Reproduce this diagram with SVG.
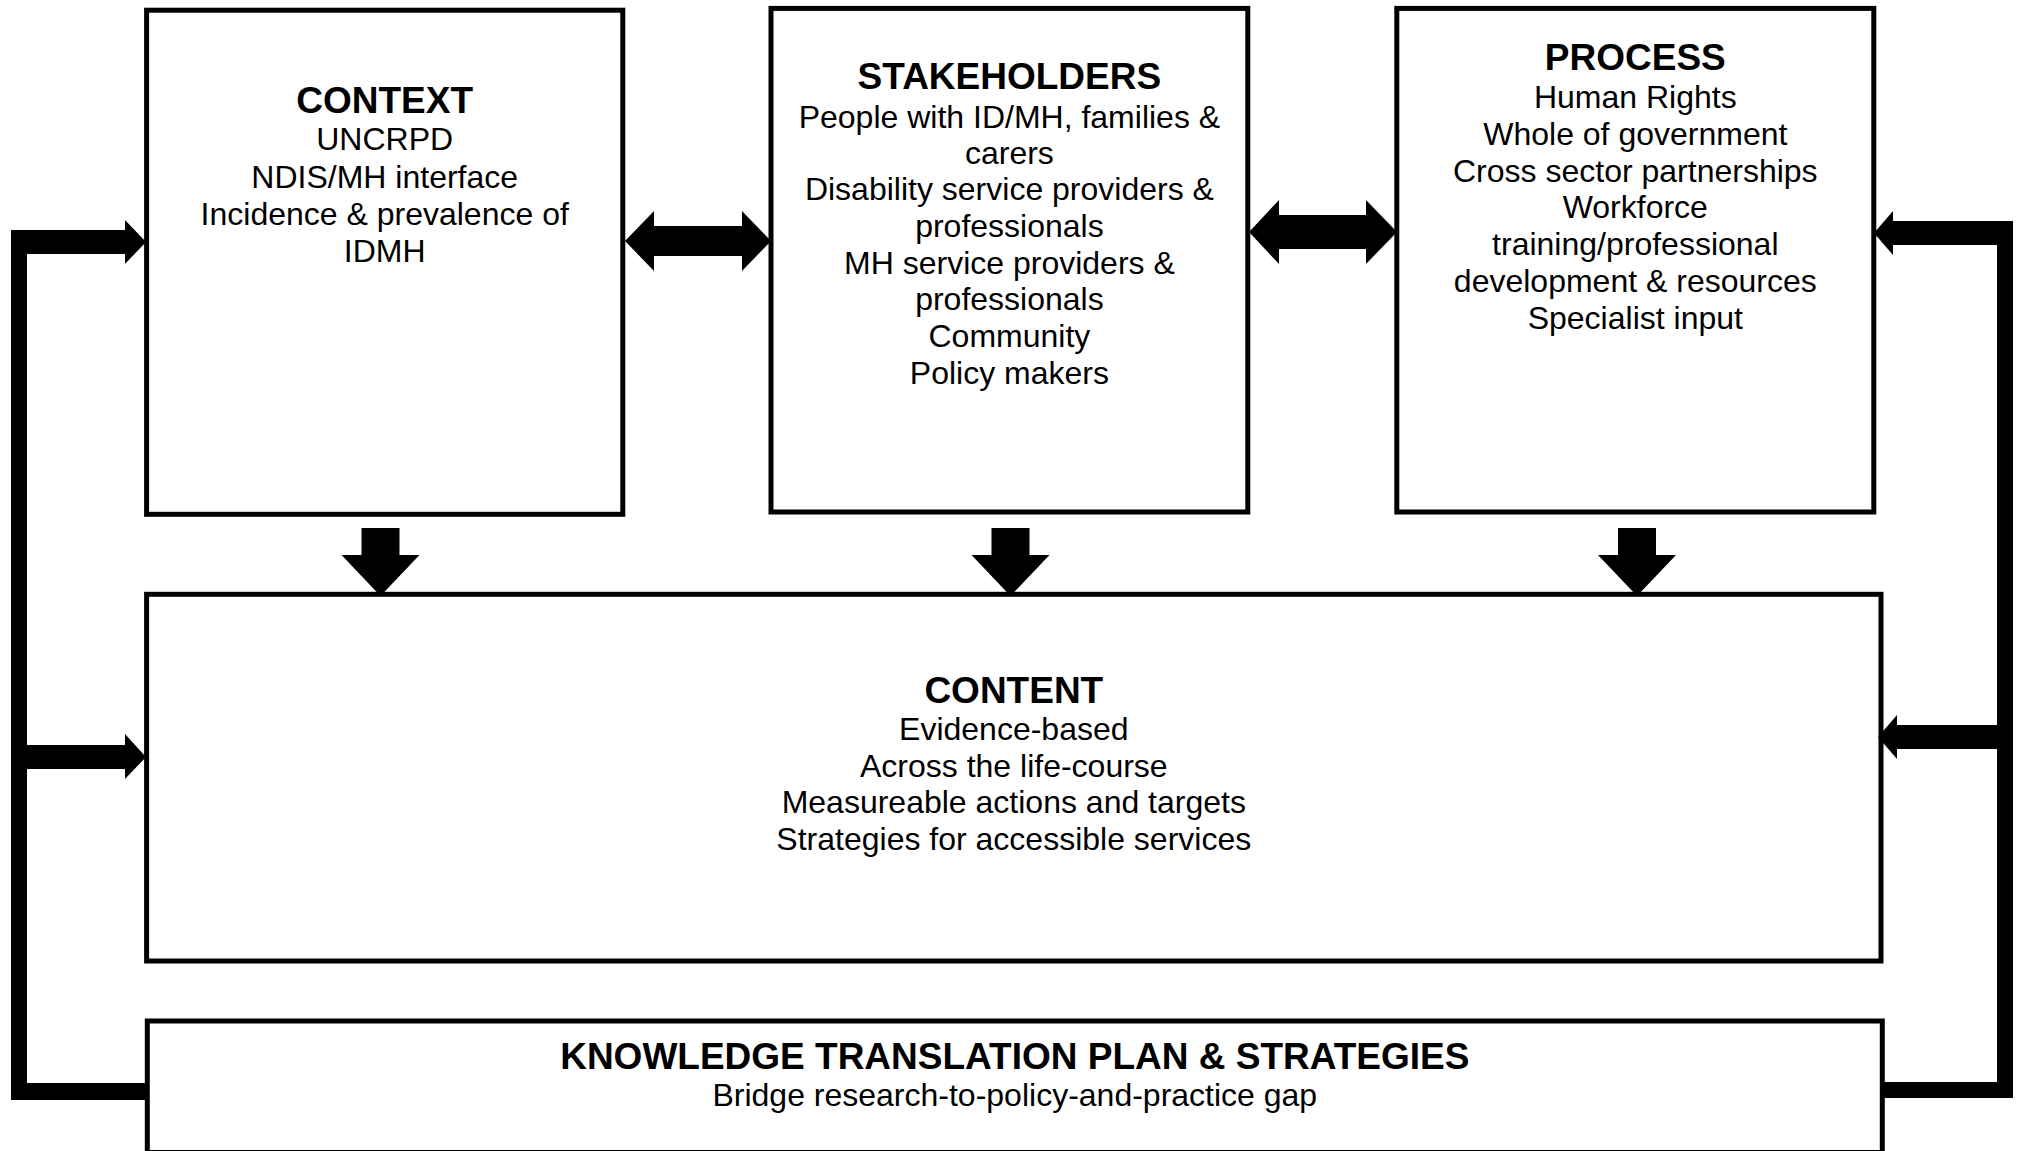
<svg xmlns="http://www.w3.org/2000/svg" width="2018" height="1151" viewBox="0 0 2018 1151">
<style>
  .box { fill: #ffffff; stroke: #000000; stroke-width: 5; }
  .arr { fill: #000000; stroke: none; }
  text { font-family: "Liberation Sans", Arial, sans-serif; fill: #000000; text-anchor: middle; }
  .t { font-size: 37px; font-weight: bold; }
  .b { font-size: 32px; }
</style>
<rect x="0" y="0" width="2018" height="1151" fill="#ffffff"/>

<g id="context">
  <rect class="box" x="146.6" y="10.2" width="476.2" height="504.1"/>
  <text class="t" x="384.7" y="112.5">CONTEXT</text>
  <text class="b" x="384.7" y="150">UNCRPD</text>
  <text class="b" x="384.7" y="187.5">NDIS/MH interface</text>
  <text class="b" x="384.7" y="224.5">Incidence &amp; prevalence of</text>
  <text class="b" x="384.7" y="262">IDMH</text>
</g>

<g id="stakeholders">
  <rect class="box" x="771" y="8.4" width="476.8" height="503.6"/>
  <text class="t" x="1009.4" y="89.3">STAKEHOLDERS</text>
  <text class="b" x="1009.4" y="127.5">People with ID/MH, families &amp;</text>
  <text class="b" x="1009.4" y="163.8">carers</text>
  <text class="b" x="1009.4" y="200.4">Disability service providers &amp;</text>
  <text class="b" x="1009.4" y="237">professionals</text>
  <text class="b" x="1009.4" y="273.6">MH service providers &amp;</text>
  <text class="b" x="1009.4" y="310.3">professionals</text>
  <text class="b" x="1009.4" y="347">Community</text>
  <text class="b" x="1009.4" y="384">Policy makers</text>
</g>

<g id="process">
  <rect class="box" x="1396.8" y="8.4" width="477" height="503.6"/>
  <text class="t" x="1635.3" y="69.6">PROCESS</text>
  <text class="b" x="1635.3" y="108">Human Rights</text>
  <text class="b" x="1635.3" y="144.8">Whole of government</text>
  <text class="b" x="1635.3" y="181.6">Cross sector partnerships</text>
  <text class="b" x="1635.3" y="218.4">Workforce</text>
  <text class="b" x="1635.3" y="255.2">training/professional</text>
  <text class="b" x="1635.3" y="292">development &amp; resources</text>
  <text class="b" x="1635.3" y="328.8">Specialist input</text>
</g>

<g id="content">
  <rect class="box" x="146.6" y="594.3" width="1734.4" height="366.7"/>
  <text class="t" x="1013.8" y="702.5">CONTENT</text>
  <text class="b" x="1013.8" y="739.5">Evidence-based</text>
  <text class="b" x="1013.8" y="776.5">Across the life-course</text>
  <text class="b" x="1013.8" y="813.3">Measureable actions and targets</text>
  <text class="b" x="1013.8" y="850">Strategies for accessible services</text>
</g>

<g id="knowledge-translation">
  <rect class="box" x="147.3" y="1021" width="1735" height="131.5"/>
  <text class="t" x="1014.8" y="1069">KNOWLEDGE TRANSLATION PLAN &amp; STRATEGIES</text>
  <text class="b" x="1014.8" y="1106">Bridge research-to-policy-and-practice gap</text>
</g>

<g id="connectors">
  <!-- double arrow context <-> stakeholders -->
  <path class="arr" d="M625,241 L654,211 L654,226 L742,226 L742,211 L771,241 L742,271 L742,256 L654,256 L654,271 Z"/>
  <!-- double arrow stakeholders <-> process -->
  <path class="arr" d="M1249,232 L1279,200 L1279,215 L1366,215 L1366,200 L1397,232 L1366,264 L1366,249 L1279,249 L1279,264 Z"/>
  <!-- down arrows into content -->
  <path class="arr" d="M361.5,528 L399.5,528 L399.5,555 L419.5,555 L380.5,596 L341.5,555 L361.5,555 Z"/>
  <path class="arr" d="M991.5,528 L1029.5,528 L1029.5,555 L1049.5,555 L1010.5,596 L971.5,555 L991.5,555 Z"/>
  <path class="arr" d="M1618,528 L1656,528 L1656,555 L1676,555 L1637,596 L1598,555 L1618,555 Z"/>
  <!-- left feedback loop -->
  <rect class="arr" x="11" y="230" width="16" height="870"/>
  <rect class="arr" x="11" y="1083" width="137" height="17"/>
  <path class="arr" d="M11,230 L125,230 L125,220 L146,242 L125,264 L125,254 L11,254 Z"/>
  <path class="arr" d="M11,745 L125,745 L125,734 L146,757 L125,779 L125,769 L11,769 Z"/>
  <!-- right feedback loop -->
  <rect class="arr" x="1997" y="221" width="16" height="877"/>
  <rect class="arr" x="1880" y="1082" width="133" height="16"/>
  <path class="arr" d="M2013,221 L1893,221 L1893,211 L1874,233 L1893,255 L1893,245 L2013,245 Z"/>
  <path class="arr" d="M2013,725 L1897,725 L1897,715 L1878,737 L1897,759 L1897,749 L2013,749 Z"/>
</g>
</svg>
